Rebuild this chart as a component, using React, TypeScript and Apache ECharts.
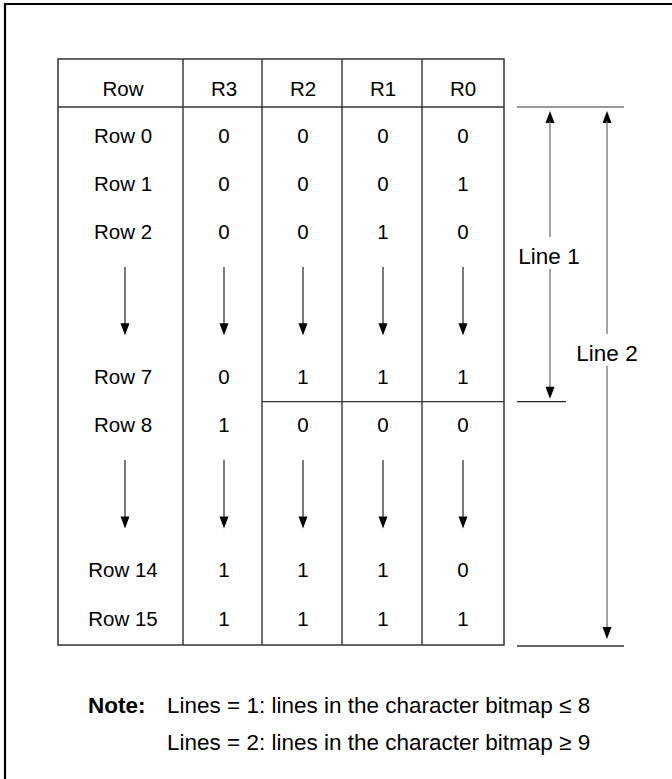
import React, { useEffect, useRef } from "react";
import * as echarts from "echarts";

// ---- data ----
const headers = ["Row", "R3", "R2", "R1", "R0"];
const rowLabels = ["Row 0", "Row 1", "Row 2", "↓", "Row 7", "Row 8", "↓", "Row 14", "Row 15"];
const r3Values = ["0", "0", "0", "↓", "0", "1", "↓", "1", "1"];
const r2Values = ["0", "0", "0", "↓", "1", "0", "↓", "1", "1"];
const r1Values = ["0", "0", "1", "↓", "1", "0", "↓", "1", "1"];
const r0Values = ["0", "1", "0", "↓", "1", "0", "↓", "0", "1"];
const rangeLabels = ["Line 1", "Line 2"];
const noteTitle = "Note:";
const noteLines = [
  "Lines = 1: lines in the character bitmap ≤ 8",
  "Lines = 2: lines in the character bitmap ≥ 9",
];

const FONT = "'Liberation Sans', Arial, Helvetica, sans-serif";

export default function App() {
  const ref = useRef<HTMLDivElement>(null);
  useEffect(() => {
    document.body.style.margin = "0";
    if (!ref.current) return;
    const chart = echarts.init(ref.current, null, { renderer: "svg" });

    const colEdges = [58, 183, 262, 342, 422, 504];
    const colCenters = [123, 224, 303, 383, 463];
    const headerTop = 59;
    const headerBottom = 107;
    const tableBottom = 645;
    const headerY = 88;
    const slot0 = 135;
    const slotH = 48.3;
    const slotY = (k: number) => slot0 + slotH * k;
    const tableLine = "#333";
    const fontSize = 20.5;

    const els: any[] = [];
    const line = (x1: number, y1: number, x2: number, y2: number, stroke: string, w = 1.3) =>
      els.push({ type: "line", shape: { x1, y1, x2, y2 }, style: { stroke, lineWidth: w } });
    const text = (x: number, y: number, t: string, opts: any = {}) =>
      els.push({
        type: "text",
        x,
        y,
        style: {
          text: t,
          fill: "#000",
          font: `${opts.bold ? "bold " : ""}${opts.size || fontSize}px ${FONT}`,
          align: opts.align || "center",
          verticalAlign: "middle",
        },
      });
    const arrowHead = (x: number, tipY: number, dir: 1 | -1, fill: string) => {
      // dir 1 = down, -1 = up
      const h = 12, w = 4.5;
      els.push({
        type: "polygon",
        shape: { points: [[x, tipY], [x - w, tipY - dir * h], [x + w, tipY - dir * h]] },
        style: { fill },
      });
    };

    // outer frame
    els.push({
      type: "rect",
      shape: { x: 5, y: 4, width: 720, height: 820 },
      style: { fill: "none", stroke: "#000", lineWidth: 2.2 },
    });

    // table frame
    els.push({
      type: "rect",
      shape: {
        x: colEdges[0],
        y: headerTop,
        width: colEdges[5] - colEdges[0],
        height: tableBottom - headerTop,
      },
      style: { fill: "none", stroke: tableLine, lineWidth: 1.5 },
    });
    for (let i = 1; i < colEdges.length - 1; i++) line(colEdges[i], headerTop, colEdges[i], tableBottom, tableLine, 1.4);
    line(colEdges[0], headerBottom, colEdges[5], headerBottom, tableLine, 1.5);

    // headers
    headers.forEach((h, i) => text(colCenters[i], headerY, h));

    // body
    const columns = [rowLabels, r3Values, r2Values, r1Values, r0Values];
    let k = 0;
    let row7Slot = -1;
    rowLabels.forEach((lab, r) => {
      if (lab === "↓") {
        const top = slotY(k) - 13;
        const bottom = slotY(k + 1) + 7;
        columns.forEach((col, c) => {
          if (col[r] === "↓") {
            const ax = colCenters[c] + (c === 0 ? 2 : 0);
            line(ax, top, ax, bottom - 10, "#222", 1.2);
            arrowHead(ax, bottom, 1, "#000");
          }
        });
        k += 2;
      } else {
        columns.forEach((col, c) => text(colCenters[c], slotY(k), col[r]));
        if (lab === "Row 7") row7Slot = k;
        k += 1;
      }
    });

    // separator under Row 7 (R2..R0)
    const sepY = slotY(row7Slot) + slotH / 2 + 1;
    line(colEdges[2], sepY, colEdges[5], sepY, tableLine, 1.4);

    // right annotations
    const tickX1 = 517, tickX2 = 624;
    line(tickX1, headerBottom, tickX2, headerBottom, "#777", 1.4);
    line(tickX1, sepY, 566, sepY, "#222", 1.4);
    line(tickX1, tableBottom + 1, tickX2, tableBottom + 1, "#333", 1.4);

    const gray = "#666";
    // Line 1
    const l1x = 550;
    const l1Top = headerBottom + 4;
    const l1Bot = sepY - 3;
    const l1TextY = 256;
    arrowHead(l1x, l1Top, -1, "#000");
    line(l1x, l1Top + 10, l1x, l1TextY - 19, gray, 1.2);
    text(l1x - 1, l1TextY, rangeLabels[0], { size: 22.5 });
    line(l1x, l1TextY + 13, l1x, l1Bot - 10, gray, 1.2);
    arrowHead(l1x, l1Bot, 1, "#000");

    // Line 2
    const l2x = 607;
    const l2Top = headerBottom + 4;
    const l2Bot = tableBottom - 6;
    const l2TextY = 353;
    arrowHead(l2x, l2Top, -1, "#000");
    line(l2x, l2Top + 10, l2x, l2TextY - 19, gray, 1.2);
    text(l2x, l2TextY, rangeLabels[1], { size: 22.5 });
    line(l2x, l2TextY + 13, l2x, l2Bot - 10, gray, 1.2);
    arrowHead(l2x, l2Bot, 1, "#000");

    // note
    text(88, 705, noteTitle, { bold: true, align: "left", size: 22.5 });
    noteLines.forEach((t, i) => text(167, 705 + 37 * i, t, { align: "left", size: 22.5 }));

    chart.setOption({ animation: false, graphic: { elements: els } });
    return () => chart.dispose();
  }, []);

  return <div ref={ref} style={{ width: 672, height: 779, overflow: "hidden" }} />;
}
